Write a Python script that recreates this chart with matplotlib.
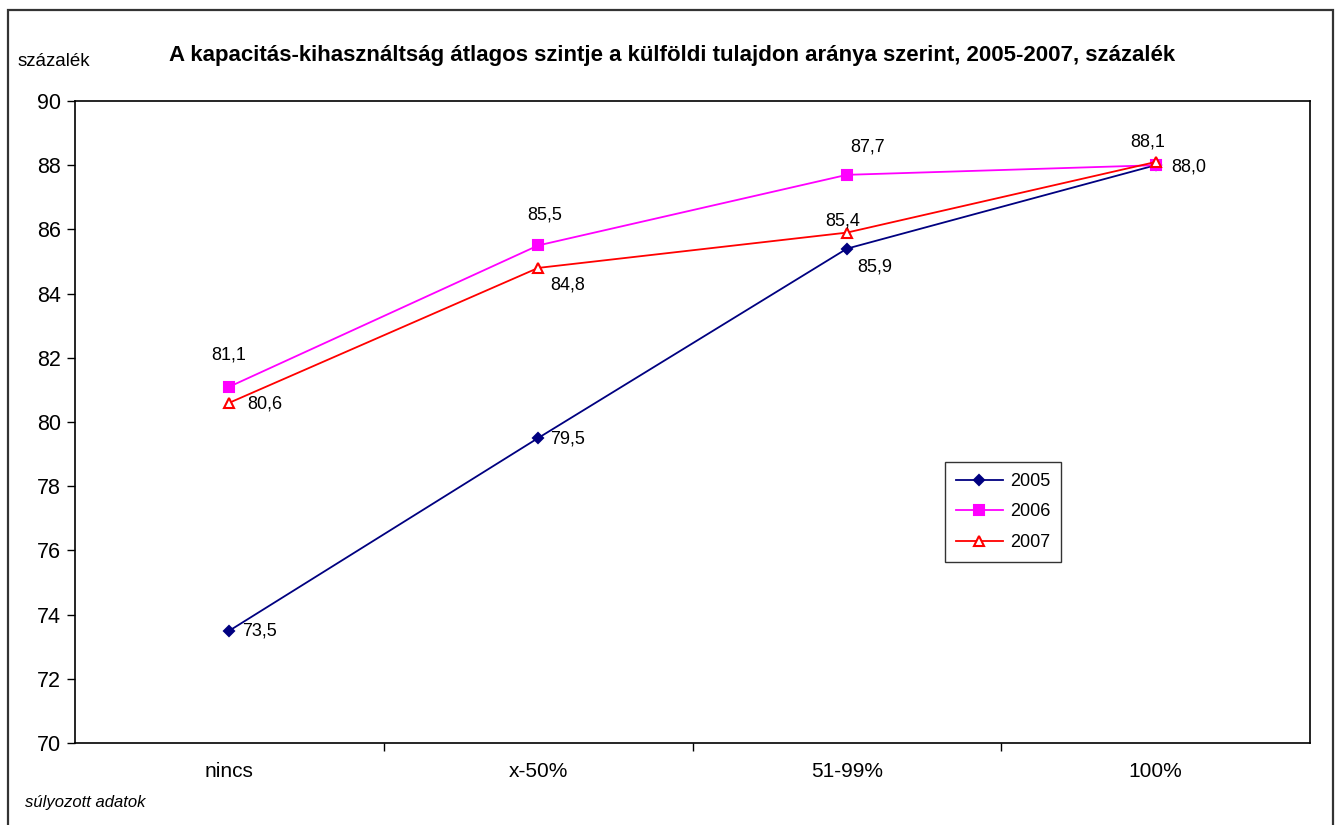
import matplotlib
matplotlib.use("Agg")
import matplotlib.pyplot as plt
from matplotlib.patches import Rectangle

plt.rcParams['font.family'] = ['Liberation Sans', 'DejaVu Sans']

categories = ["nincs", "x-50%", "51-99%", "100%"]
years = ["2005", "2006", "2007"]
v2005 = [73.5, 79.5, 85.4, 88.0]
v2006 = [81.1, 85.5, 87.7, 88.0]
v2007 = [80.6, 84.8, 85.9, 88.1]
yticks = [70, 72, 74, 76, 78, 80, 82, 84, 86, 88, 90]

series = [v2005, v2006, v2007]
colors = ["#000080", "#FF00FF", "#FF0000"]
markers = ["D", "s", "^"]
msizes = [5.5, 7, 7]
faces = ["#000080", "#FF00FF", "white"]
# label offsets in pixels (dx, dy); None = no label
offsets = [
    [(30, 0), (29, -1), (-4, 28), (33, -2)],
    [(-1, 32), (7, 30), (21, 28), None],
    [(35, -1), (30, -17), (28, -34), (-8, 20)],
]

fig = plt.figure(figsize=(13.39, 8.25), dpi=100)
ax = fig.add_axes([75/1339, 1-743/825, (1310-75)/1339, (743-101)/825])

x = list(range(len(categories)))
for vals, yr, c, m, ms, fc, offs in zip(series, years, colors, markers, msizes, faces, offsets):
    ax.plot(x, vals, color=c, lw=1.3, marker=m, ms=ms, markerfacecolor=fc,
            markeredgecolor=c, markeredgewidth=1.5, label=yr)
    for xi, v, off in zip(x, vals, offs):
        if off is None:
            continue
        ax.annotate(f"{v:.1f}".replace(".", ","), (xi, v), xytext=off,
                    textcoords="offset pixels", ha="center", va="center",
                    fontsize=13, color="black")

ax.set_xlim(-0.5, len(categories) - 0.5)
ax.set_ylim(70, 90)
ax.set_yticks(yticks)
ax.set_yticklabels([str(t) for t in yticks], fontsize=15.5)
ax.set_xticks([i + 0.5 for i in range(len(categories) - 1)])
ax.set_xticklabels([])
ax.set_xticks(x, minor=True)
ax.set_xticklabels(categories, minor=True, fontsize=15)
ax.tick_params(axis="x", which="major", direction="out", length=6, width=1)
ax.tick_params(axis="x", which="minor", length=0, pad=14)
ax.tick_params(axis="y", direction="out", length=6, width=1, pad=4)
for s in ax.spines.values():
    s.set_linewidth(1.2)

leg = ax.legend(loc="upper left", bbox_to_anchor=((945-75)/1235, 1-(462-101)/642),
                frameon=True, fancybox=False, edgecolor="black", fontsize=13,
                handlelength=2.6, borderpad=0.6, labelspacing=0.75, handletextpad=0.4,
                borderaxespad=0)
leg.get_frame().set_linewidth(1.0)

fig.text(672/1339, 1-56/825,
         "A kapacitás-kihasználtság átlagos szintje a külföldi tulajdon aránya szerint, 2005-2007, százalék",
         ha="center", va="center", fontsize=16, fontweight="bold")
fig.text(18/1339, 1-62/825, "százalék", ha="left", va="center", fontsize=13.5)
fig.text(25/1339, 1-803/825, "súlyozott adatok", ha="left", va="center", fontsize=12, style="italic")

fig.add_artist(Rectangle((8/1339, -0.05), (1333-8)/1339, 1-10/825+0.05,
                         transform=fig.transFigure, fill=False, edgecolor="#333333", lw=1.6))

fig.savefig("out.png", dpi=100)
